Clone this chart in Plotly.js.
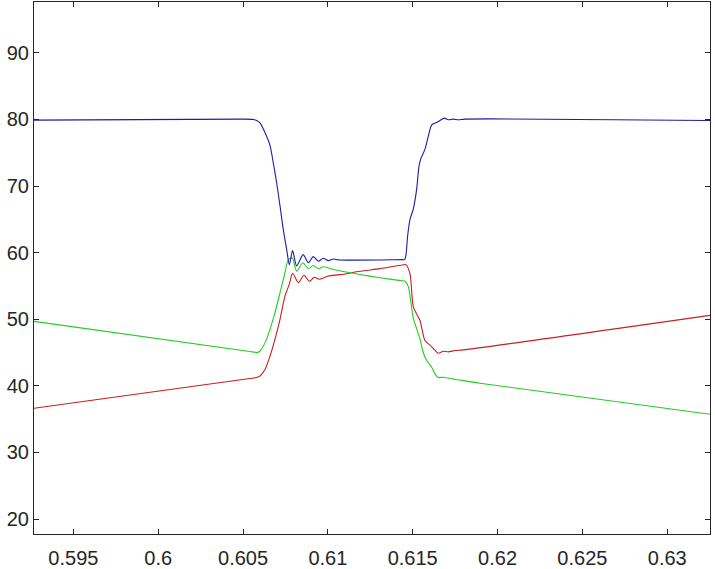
<!DOCTYPE html>
<html>
<head>
<meta charset="utf-8">
<script src="https://cdn.plot.ly/plotly-3.0.1.min.js"></script>
<style>html,body{margin:0;padding:0;background:#fff;}#plot{width:715px;height:569px;}</style>
</head>
<body>
<div id="plot"></div>
<script>
const blueX = [0.59268, 0.6050, 0.6056, 0.6058, 0.6060, 0.6063, 0.6066, 0.60678, 0.60698, 0.60718, 0.60737, 0.60757, 0.60773, 0.60792, 0.60816, 0.60854, 0.60885, 0.60914, 0.60944, 0.60973, 0.61003, 0.61032, 0.6107, 0.6144, 0.61452, 0.61460, 0.61470, 0.61484, 0.61503, 0.61523, 0.61537, 0.61549, 0.61572, 0.61592, 0.61612, 0.61641, 0.61661, 0.61686, 0.61710, 0.61739, 0.61769, 0.61808, 0.63252];
const blueY = [79.9, 80.05, 80.0, 79.85, 79.5, 78.0, 76.0, 73.5, 70.5, 67.0, 63.5, 60.5, 58.2, 60.3, 58.0, 59.7, 58.5, 59.4, 58.7, 59.15, 58.8, 59.05, 58.9, 58.95, 58.95, 59.6, 62.5, 65.0, 66.5, 69.5, 73.0, 74.2, 75.5, 77.5, 79.2, 79.55, 79.85, 80.2, 79.95, 80.05, 79.95, 80.05, 79.85];

const redX = [0.59268, 0.6054, 0.60571, 0.6060, 0.6063, 0.60659, 0.60688, 0.60718, 0.60747, 0.60773, 0.60792, 0.60826, 0.60859, 0.60891, 0.60920, 0.60950, 0.61003, 0.61072, 0.61189, 0.61307, 0.6144, 0.61460, 0.61484, 0.61503, 0.61523, 0.61543, 0.61572, 0.61602, 0.61631, 0.61651, 0.61680, 0.61710, 0.61749, 0.6180, 0.63252];
const redY = [36.64, 41.1, 41.2, 41.48, 42.48, 44.48, 46.98, 49.98, 53.47, 55.3, 56.9, 55.5, 56.6, 55.7, 56.3, 56.0, 56.5, 56.7, 57.2, 57.6, 58.15, 58.2, 56.8, 51.9, 50.8, 49.8, 46.8, 46.1, 45.35, 44.9, 45.2, 45.1, 45.3, 45.4, 50.58];

const greenX = [0.59268, 0.6054, 0.60571, 0.60581, 0.6060, 0.6063, 0.60659, 0.60688, 0.60718, 0.60747, 0.60767, 0.60790, 0.60816, 0.60852, 0.60885, 0.60914, 0.60944, 0.60973, 0.61032, 0.61189, 0.61307, 0.6143, 0.61455, 0.61474, 0.61484, 0.61503, 0.61523, 0.61543, 0.61562, 0.61582, 0.61612, 0.61631, 0.61651, 0.61680, 0.61720, 0.61749, 0.61896, 0.63252];
const greenY = [49.68, 45.15, 45.05, 44.99, 45.23, 46.49, 48.48, 50.98, 53.98, 56.98, 58.97, 59.2, 57.22, 58.48, 57.58, 58.07, 57.58, 57.88, 57.47, 56.72, 56.23, 55.8, 55.7, 54.9, 53.5, 50.2, 48.6, 47.0, 45.0, 43.8, 42.8, 41.8, 41.25, 41.3, 41.1, 41.0, 40.4, 35.74];

const xTicks = [0.595, 0.6, 0.605, 0.61, 0.615, 0.62, 0.625, 0.63];
const xTickText = ["0.595", "0.6", "0.605", "0.61", "0.615", "0.62", "0.625", "0.63"];
const yTicks = [20, 30, 40, 50, 60, 70, 80, 90];
const yTickText = ["20", "30", "40", "50", "60", "70", "80", "90"];

const axisColor = "#262626";
const tickFont = {family: "Liberation Sans, Arial, sans-serif", size: 20, color: axisColor};
const lineShape = {shape: "spline", smoothing: 0.7, width: 1.1};

const traces = [
  {x: redX, y: redY, mode: "lines", line: Object.assign({color: "#c81e1e"}, lineShape), showlegend: false},
  {x: greenX, y: greenY, mode: "lines", line: Object.assign({color: "#22cc22"}, lineShape), showlegend: false},
  {x: blueX, y: blueY, mode: "lines", line: Object.assign({color: "#1c1ca8"}, lineShape), showlegend: false}
];

const layout = {
  width: 715, height: 569,
  margin: {l: 34, r: 5, t: 2, b: 35},
  paper_bgcolor: "#ffffff", plot_bgcolor: "#ffffff",
  xaxis: {
    range: [0.59268, 0.63252], tickvals: xTicks, ticktext: xTickText,
    ticks: "inside", ticklen: 5, tickcolor: axisColor, tickwidth: 1,
    showline: true, linecolor: axisColor, linewidth: 1, mirror: "ticks",
    showgrid: false, zeroline: false, tickfont: tickFont, ticklabelstandoff: 6
  },
  yaxis: {
    range: [17.75, 97.64], tickvals: yTicks, ticktext: yTickText,
    ticks: "inside", ticklen: 5, tickcolor: axisColor, tickwidth: 1,
    showline: true, linecolor: axisColor, linewidth: 1, mirror: "ticks",
    showgrid: false, zeroline: false, tickfont: tickFont
  }
};

Plotly.newPlot("plot", traces, layout, {staticPlot: true, displayModeBar: false});
</script>
</body>
</html>
